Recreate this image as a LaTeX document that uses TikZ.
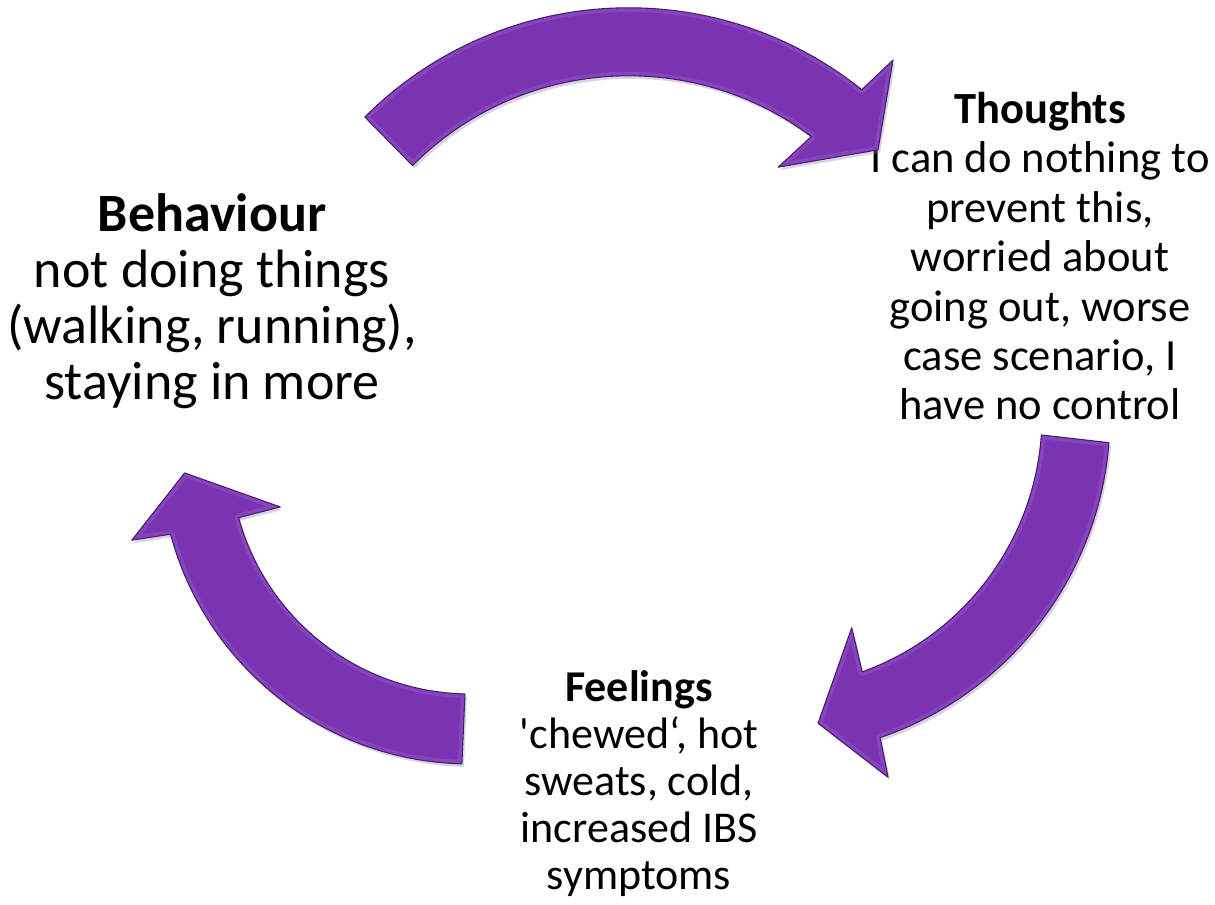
\documentclass[tikz,border=0pt]{standalone}
\usepackage{fontspec}
\setmainfont{Carlito}[Ligatures=TeXOff]
\definecolor{arrowfill}{RGB}{122,52,178}
\definecolor{arrowedge}{RGB}{72,30,104}
\definecolor{arrowshade}{RGB}{150,130,170}
\definecolor{arrowrim}{RGB}{150,90,205}
\begin{document}
\begin{tikzpicture}[x=0.75pt,y=0.75pt,
  cyclearrow/.style={fill=arrowfill,line join=round},
  arrowoutline/.style={draw=arrowedge,line width=0.8pt,line join=round},
  arrowbevel/.style={draw=arrowrim,line width=6pt,opacity=0.45,line join=round},
  arrowshadow/.style={fill=arrowshade,opacity=0.35},
  bigtext/.style={align=center,anchor=base,inner sep=0pt,font=\fontsize{40.5}{42}\selectfont},
  midtext/.style={align=center,anchor=base,inner sep=0pt,font=\fontsize{33.4}{37.1}\selectfont},
  lowtext/.style={align=center,anchor=base,inner sep=0pt,font=\fontsize{33}{35.25}\selectfont}]
\useasboundingbox (0,0) rectangle (1215,905);
\fill[white] (0,0) rectangle (1215,905);

% texts (anchored at the baseline of their last line)
\node[bigtext] (behaviour) at (212,505)
  {\textbf{Behaviour}\\not doing things\\(walking, running),\\staying in more};
\node[midtext] (thoughts) at (1040,485)
  {\textbf{Thoughts}\\I can do nothing to\\prevent this,\\worried about\\going out, worse\\case scenario, I\\have no control};
\node[lowtext] (feelings) at (639,15)
  {\textbf{Feelings}\\'chewed‘, hot\\sweats, cold,\\increased IBS\\symptoms};

% top arrow (Behaviour -> Thoughts)
\def\toparrow{(135:373) arc[start angle=135,end angle=51.3,radius=373]
  -- (50.5:415.7) -- (42.8:340) -- (55:260.8) -- (53.2:305)
  arc[start angle=53.2,end angle=135.1,radius=305] -- cycle}
\begin{scope}[shift={(630.6,521.2)}]
  \fill[arrowshadow] \toparrow;
\end{scope}
\begin{scope}[shift={(628.6,524.2)}]
  \path[cyclearrow] \toparrow;
  \begin{scope}
    \clip \toparrow;
    \draw[arrowbevel] \toparrow;
  \end{scope}
  \draw[arrowoutline] \toparrow;
\end{scope}

% right arrow (Thoughts -> Feelings)
\def\rightarrow{(-4.5:340) arc[start angle=-4.5,end angle=-71.1,radius=340]
  -- (-71.9:380) -- (-81.1:311) -- (-68.9:227) -- (-70.2:272)
  arc[start angle=-70.2,end angle=-4.0,radius=272] -- cycle}
\begin{scope}[shift={(772,486)}]
  \fill[arrowshadow] \rightarrow;
\end{scope}
\begin{scope}[shift={(770,489)}]
  \path[cyclearrow] \rightarrow;
  \begin{scope}
    \clip \rightarrow;
    \draw[arrowbevel] \rightarrow;
  \end{scope}
  \draw[arrowoutline] \rightarrow;
\end{scope}

% left arrow (Feelings -> Behaviour)
\def\leftarrow{(268.5:310) arc[start angle=268.5,end angle=195,radius=310]
  -- (194.3:349) -- (183.8:286) -- (195.6:197) -- (195.4:240)
  arc[start angle=195.4,end angle=268.8,radius=240] -- cycle}
\begin{scope}[shift={(472,448)}]
  \fill[arrowshadow] \leftarrow;
\end{scope}
\begin{scope}[shift={(470,451)}]
  \path[cyclearrow] \leftarrow;
  \begin{scope}
    \clip \leftarrow;
    \draw[arrowbevel] \leftarrow;
  \end{scope}
  \draw[arrowoutline] \leftarrow;
\end{scope}
\end{tikzpicture}
\end{document}
